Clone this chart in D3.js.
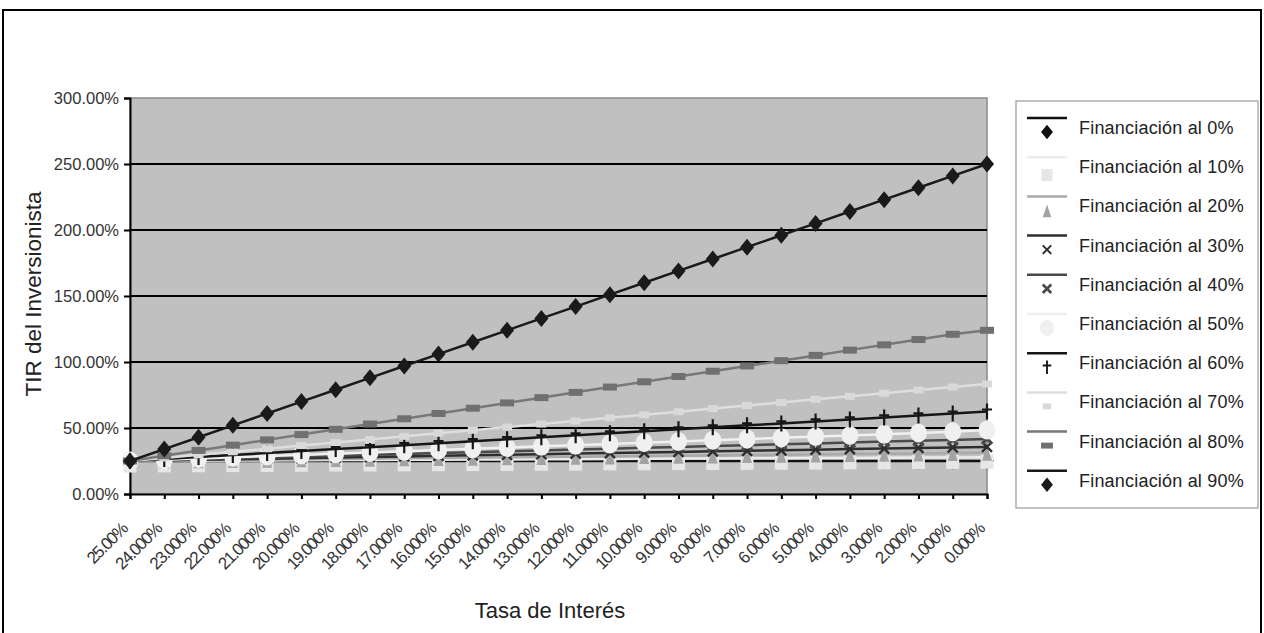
<!DOCTYPE html>
<html>
<head>
<meta charset="utf-8">
<script src="https://cdn.jsdelivr.net/npm/d3@7"></script>
<style>
body { margin: 0; background: #fff; }
text { font-family: "Liberation Sans", Arial, sans-serif; }
</style>
</head>
<body>
<script>
// tasas de interes (eje x)
var rates = ["25.00%", "24.000%", "23.000%", "22.000%", "21.000%", "20.000%", "19.000%", "18.000%",
  "17.000%", "16.000%", "15.000%", "14.000%", "13.000%", "12.000%", "11.000%", "10.000%", "9.000%",
  "8.000%", "7.000%", "6.000%", "5.000%", "4.000%", "3.000%", "2.000%", "1.000%", "0.000%"];

var yTicks = [0, 50, 100, 150, 200, 250, 300];

// TIR del inversionista por nivel de financiacion
var fin0  = [25, 25, 25, 25, 25, 25, 25, 25, 25, 25, 25, 25, 25, 25, 25, 25, 25, 25, 25, 25, 25, 25, 25, 25, 25, 25];
var fin10 = [25, 25.1, 25.2, 25.3, 25.4, 25.6, 25.7, 25.8, 25.9, 26, 26.1, 26.2, 26.3, 26.4, 26.6, 26.7, 26.8, 26.9, 27, 27.1, 27.2, 27.3, 27.4, 27.6, 27.7, 27.8];
var fin20 = [25, 25.25, 25.5, 25.75, 26, 26.25, 26.5, 26.75, 27, 27.25, 27.5, 27.75, 28, 28.25, 28.5, 28.75, 29, 29.25, 29.5, 29.75, 30, 30.25, 30.5, 30.75, 31, 31.25];
var fin30 = [25, 25.4, 25.9, 26.3, 26.7, 27.1, 27.6, 28, 28.4, 28.9, 29.3, 29.7, 30.1, 30.6, 31, 31.4, 31.9, 32.3, 32.7, 33.1, 33.6, 34, 34.4, 34.9, 35.3, 35.7];
var fin40 = [25, 25.7, 26.3, 27, 27.7, 28.3, 29, 29.7, 30.3, 31, 31.7, 32.3, 33, 33.7, 34.3, 35, 35.7, 36.3, 37, 37.7, 38.3, 39, 39.7, 40.3, 41, 41.7];
var fin50 = [25, 25.9, 26.8, 27.8, 28.7, 29.6, 30.5, 31.5, 32.4, 33.3, 34.2, 35.2, 36.1, 37, 37.9, 38.9, 39.8, 40.7, 41.6, 42.6, 43.5, 44.4, 45.3, 46.3, 47.2, 48.5];
var fin60 = [25, 26.5, 28, 29.5, 31, 32.5, 34, 35.5, 37, 38.5, 40, 41.5, 43, 44.5, 46, 47.5, 49, 50.5, 52, 53.5, 55, 56.5, 58, 59.5, 61, 62.5];
var fin70 = [25, 27.3, 29.7, 32, 34.3, 36.7, 39, 41.3, 43.7, 46, 48.3, 50.7, 53, 55.3, 57.7, 60, 62.3, 64.7, 67, 69.3, 71.7, 74, 76.3, 78.7, 81, 83.3];
var fin80 = [25, 29, 33, 37, 41, 45, 49, 53, 57, 61, 65, 69, 73, 77, 81, 85, 89, 93, 97, 101, 105, 109, 113, 117, 121, 124];
var fin90 = [25, 34, 43, 52, 61, 70, 79, 88, 97, 106, 115, 124, 133, 142, 151, 160, 169, 178, 187, 196, 205, 214, 223, 232, 241, 250];

var seriesNames = ["Financiación al 0%", "Financiación al 10%", "Financiación al 20%", "Financiación al 30%",
  "Financiación al 40%", "Financiación al 50%", "Financiación al 60%", "Financiación al 70%",
  "Financiación al 80%", "Financiación al 90%"];
var seriesValues = [fin0, fin10, fin20, fin30, fin40, fin50, fin60, fin70, fin80, fin90];

// estilo de cada serie: color de linea, color de marcador, tipo de marcador
var styles = [
  {line: "#111", fill: "#111", mark: "diamond"},
  {line: "#ececec", fill: "#e6e6e6", mark: "bigsquare"},
  {line: "#a9a9a9", fill: "#a3a3a3", mark: "triangle"},
  {line: "#2e2e2e", fill: "#2e2e2e", mark: "x"},
  {line: "#4a4a4a", fill: "#4a4a4a", mark: "xbold"},
  {line: "#f0f0f0", fill: "#f0f0f0", mark: "circle"},
  {line: "#161616", fill: "#161616", mark: "plus"},
  {line: "#dedede", fill: "#d9d9d9", mark: "smallsquare"},
  {line: "#787878", fill: "#707070", mark: "rect"},
  {line: "#1a1a1a", fill: "#1a1a1a", mark: "diamond"}
];

var W = 1264, H = 633;
var plotLeft = 130, plotRight = 987, plotTop = 98, plotBottom = 494;

var svg = d3.select("body").append("svg")
  .attr("width", W)
  .attr("height", H);

// marco exterior
svg.append("rect")
  .attr("x", 3).attr("y", 10)
  .attr("width", 1258).attr("height", 640)
  .attr("fill", "none").attr("stroke", "#000").attr("stroke-width", 2);

var x = d3.scalePoint().domain(d3.range(rates.length)).range([plotLeft, plotRight]);
var y = d3.scaleLinear().domain([0, 300]).range([plotBottom, plotTop]);

// area del grafico
svg.append("rect")
  .attr("x", plotLeft).attr("y", plotTop)
  .attr("width", plotRight - plotLeft).attr("height", plotBottom - plotTop)
  .attr("fill", "#c0c0c0").attr("stroke", "#8a8a8a").attr("stroke-width", 1.5);

svg.selectAll(".grid")
  .data(yTicks.filter(function(d) { return d > 0 && d < 300; }))
  .enter().append("line")
  .attr("x1", plotLeft).attr("x2", plotRight)
  .attr("y1", function(d) { return y(d); })
  .attr("y2", function(d) { return y(d); })
  .attr("stroke", "#000").attr("stroke-width", 2);

// ejes
var yAxis = svg.append("g")
  .attr("transform", "translate(" + plotLeft + ",0)")
  .call(d3.axisLeft(y).tickValues(yTicks).tickSize(6).tickPadding(5)
    .tickFormat(function(d) { return d3.format(".2f")(d) + "%"; }));
yAxis.select(".domain").attr("stroke-width", 2).attr("stroke", "#000");
yAxis.selectAll(".tick line").attr("stroke-width", 2);
yAxis.selectAll("text").attr("font-size", 16.5).attr("fill", "#333")
  .style("font-family", "'Liberation Sans', Arial, sans-serif");

var xAxis = svg.append("g")
  .attr("transform", "translate(0," + plotBottom + ")")
  .call(d3.axisBottom(x).tickSize(5).tickFormat(function(i) { return rates[i]; }));
xAxis.select(".domain").attr("stroke-width", 2).attr("stroke", "#000");
xAxis.selectAll(".tick line").attr("stroke-width", 2);
xAxis.selectAll("text")
  .attr("font-size", 17)
  .attr("fill", "#333")
  .attr("letter-spacing", "-1.4px")
  .style("font-family", "'Liberation Sans', Arial, sans-serif")
  .attr("text-anchor", "end")
  .attr("y", 0).attr("dy", 0)
  .attr("transform", "translate(-2,36) rotate(-45)");

// titulos
svg.append("text")
  .attr("transform", "translate(41,294) rotate(-90)")
  .attr("text-anchor", "middle")
  .attr("font-size", 22.5).attr("fill", "#222")
  .text("TIR del Inversionista");

svg.append("text")
  .attr("x", 550).attr("y", 618)
  .attr("text-anchor", "middle")
  .attr("font-size", 22).attr("fill", "#222")
  .text("Tasa de Interés");

// dibuja un marcador en (cx, cy)
function drawMarker(g, st, cx, cy, scale) {
  var s = scale || 1;
  var m = st.mark;
  if (m === "diamond") {
    var hw = 7 * s, hh = 8.5 * s;
    g.append("path")
      .attr("d", "M" + cx + "," + (cy - hh) + "L" + (cx + hw) + "," + cy + "L" + cx + "," + (cy + hh) + "L" + (cx - hw) + "," + cy + "Z")
      .attr("fill", st.fill);
  } else if (m === "bigsquare") {
    var h = 6.5 * s;
    g.append("rect").attr("x", cx - h).attr("y", cy - h + 4 * s).attr("width", 2 * h).attr("height", 2 * h + 1)
      .attr("fill", st.fill);
  } else if (m === "smallsquare") {
    g.append("rect").attr("x", cx - 5 * s).attr("y", cy - 3.5 * s).attr("width", 10 * s).attr("height", 7 * s)
      .attr("fill", st.fill);
  } else if (m === "rect") {
    g.append("rect").attr("x", cx - 7 * s).attr("y", cy - 3.5 * s).attr("width", 14 * s).attr("height", 7 * s)
      .attr("fill", st.fill);
  } else if (m === "triangle") {
    g.append("path")
      .attr("d", "M" + cx + "," + (cy - 7 * s) + "L" + (cx + 5 * s) + "," + (cy + 8 * s) + "L" + (cx - 5 * s) + "," + (cy + 8 * s) + "Z")
      .attr("fill", st.fill);
  } else if (m === "circle") {
    g.append("ellipse").attr("cx", cx).attr("cy", cy).attr("rx", 8.5 * s).attr("ry", 9.5 * s)
      .attr("fill", st.fill);
  } else if (m === "x" || m === "xbold") {
    var k = 5 * s;
    g.append("path")
      .attr("d", "M" + (cx - k) + "," + (cy - k) + "L" + (cx + k) + "," + (cy + k) + "M" + (cx + k) + "," + (cy - k) + "L" + (cx - k) + "," + (cy + k))
      .attr("stroke", st.fill).attr("stroke-width", m === "xbold" ? 3.2 * s : 2.4 * s).attr("fill", "none");
  } else if (m === "plus") {
    g.append("path")
      .attr("d", "M" + cx + "," + (cy - 8 * s) + "L" + cx + "," + (cy + 8 * s) + "M" + (cx - 5 * s) + "," + (cy - 2 * s) + "L" + (cx + 5 * s) + "," + (cy - 2 * s))
      .attr("stroke", st.fill).attr("stroke-width", 2.2 * s).attr("fill", "none");
  }
}

var line = d3.line()
  .x(function(d, i) { return x(i); })
  .y(function(d) { return y(d); });

var plot = svg.append("g");
seriesValues.forEach(function(vals, si) {
  var st = styles[si];
  var g = plot.append("g");
  g.append("path")
    .datum(vals)
    .attr("d", line)
    .attr("fill", "none")
    .attr("stroke", st.line)
    .attr("stroke-width", 2.5);
  vals.forEach(function(v, i) {
    drawMarker(g, st, x(i), y(v), 1);
  });
});

// leyenda
var legX = 1016, legY = 101, legW = 242, legH = 407;
svg.append("rect")
  .attr("x", legX).attr("y", legY).attr("width", legW).attr("height", legH)
  .attr("fill", "#fff").attr("stroke", "#999").attr("stroke-width", 1.2);

var leg = svg.append("g");
seriesNames.forEach(function(name, i) {
  var cy = 128 + i * 39.2;
  var st = styles[i];
  leg.append("line")
    .attr("x1", 1027).attr("x2", 1067)
    .attr("y1", cy - 10).attr("y2", cy - 10)
    .attr("stroke", st.line).attr("stroke-width", 2.5);
  drawMarker(leg, st, 1047, cy + 4, 0.85);
  leg.append("text")
    .attr("x", 1079).attr("y", cy + 6)
    .attr("font-size", 18).attr("fill", "#222")
    .attr("letter-spacing", "0.2px")
    .text(name);
});
</script>
</body>
</html>
